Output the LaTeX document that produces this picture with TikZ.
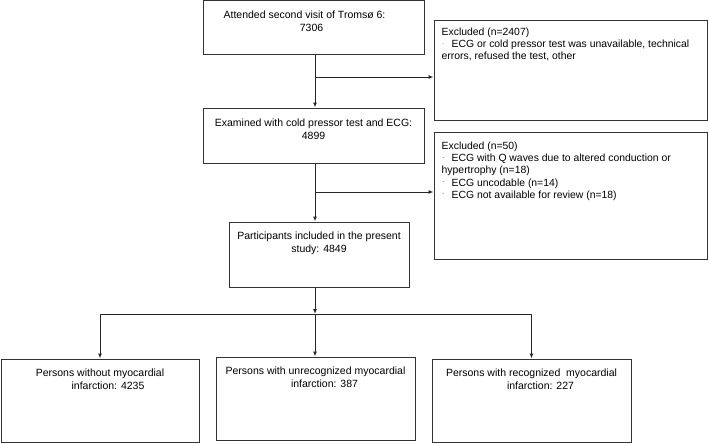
\documentclass[tikz,border=0pt]{standalone}
\usepackage{fontspec}
\setmainfont{Liberation Sans}
\usetikzlibrary{positioning,arrows.meta}

\newcommand{\exbullet}[2]{\makebox[10pt][l]{\hspace{1pt}\raisebox{#2}{\tiny #1}}}

\begin{document}
\begin{tikzpicture}[x=1pt, y=-1pt,
    >={Latex[length=5pt,width=4pt]},
    flowbox/.style={draw=black!80, line width=1pt, inner sep=0pt},
    flowtext/.style={inner sep=0pt, align=center, font=\fontsize{10.5}{12.8}\selectfont},
    exctext/.style={inner sep=0pt, align=left, font=\fontsize{10.4}{12.3}\selectfont},
    link/.style={draw=black!85, line width=1pt}]
    \useasboundingbox (0,0) rectangle (709,444);

    % Main flow boxes
    \node[flowbox, minimum width=221pt, minimum height=54pt] (att) at (313.5,28) {};
    \node[flowbox, minimum width=221pt, minimum height=55pt] (exam) at (313.5,135.5) {};
    \node[flowbox, minimum width=180pt, minimum height=65pt] (parts) at (319,254.5) {};

    % Exclusion boxes
    \node[flowbox, minimum width=273pt, minimum height=99pt] (excl1) at (570.5,70.5) {};
    \node[flowbox, minimum width=273pt, minimum height=127pt] (excl2) at (570.5,195.5) {};

    % Outcome groups
    \node[flowbox, minimum width=198pt, minimum height=83pt] (nomi) at (100,400.5) {};
    \node[flowbox, minimum width=199pt, minimum height=83pt] (unrec) at (315.5,398.5) {};
    \node[flowbox, minimum width=199pt, minimum height=83pt] (recog) at (531.5,400.5) {};

    % Texts
    \node[flowtext, below=10pt of att.north, xshift=-9pt] (atttxt)
        {Attended second visit of Troms\o{} 6:\\ \hspace*{14pt}7306};
    \node[flowtext, below=11pt of exam.north] (examtxt)
        {Examined with cold pressor test and ECG:\\ 4899};
    \node[flowtext, below=10pt of parts.north] (partstxt)
        {Participants included in the present\\ study: 4849};
    \node[exctext, anchor=north west] (excl1txt) at ([xshift=8pt, yshift=-7pt]excl1.north west)
        {Excluded (n=2407)\\
         \exbullet{¨}{0pt}ECG or cold pressor test was unavailable, technical\\
         errors, refused the test, other};
    \node[exctext, anchor=north west] (excl2txt) at ([xshift=8pt, yshift=-10pt]excl2.north west)
        {Excluded (n=50)\\
         \exbullet{-}{2.5pt}ECG with Q waves due to altered conduction or\\
         hypertrophy (n=18)\\
         \exbullet{-}{2.5pt}ECG uncodable (n=14)\\
         \exbullet{-}{2.5pt}ECG not available for review (n=18)};
    \node[flowtext, below=10pt of nomi.north] (nomitxt)
        {Persons without myocardial\\ \hspace*{16pt}infarction: 4235};
    \node[flowtext, below=10pt of unrec.north] (unrectxt)
        {Persons with unrecognized myocardial\\ \hspace*{18pt}infarction: 387};
    \node[flowtext, below=10pt of recog.north] (recogtxt)
        {Persons with recognized\ \ myocardial\\ \hspace*{18pt}infarction: 227};

    % Connectors
    \coordinate (b1) at (315,77);
    \coordinate (b2) at (315,192);
    \coordinate (split) at (315,314);
    \draw[link, ->] (att.south -| b1) -- (exam.north -| b1);
    \draw[link, ->] (b1) -- (b1 -| excl1.west);
    \draw[link, ->] (exam.south -| b2) -- (parts.north -| b2);
    \draw[link, ->] (b2) -- (b2 -| excl2.west);
    \draw[link, ->] (parts.south -| split) -- (split);
    \draw[link] (split -| nomi.north) -- (split -| recog.north);
    \draw[link, ->] (split -| nomi.north) -- (nomi.north);
    \draw[link, ->] (split) -- (split |- unrec.north);
    \draw[link, ->] (split -| recog.north) -- (recog.north);
\end{tikzpicture}
\end{document}
